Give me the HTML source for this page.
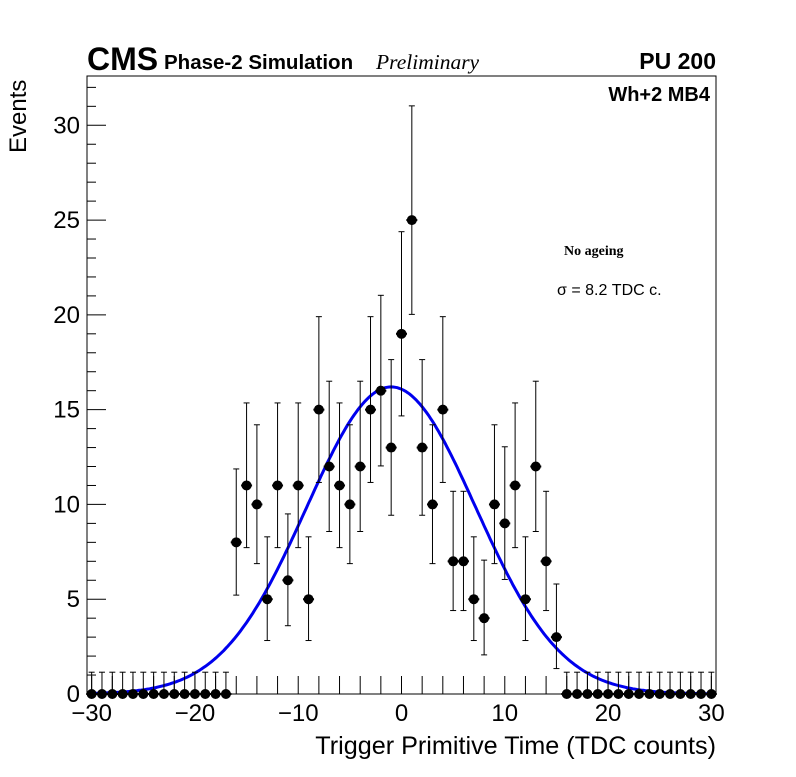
<!DOCTYPE html>
<html><head><meta charset="utf-8"><style>body{margin:0;background:#fff}svg{font-family:"Liberation Sans",sans-serif}</style></head>
<body>
<svg width="796" height="772" xmlns="http://www.w3.org/2000/svg">
<g id="g"></g>
</svg>
<script>
const xs = [];
for (let i=-30;i<=30;i++) xs.push(i);
const counts = [0,0,0,0,0,0,0,0,0,0,0,0,0,0,8,11,10,5,11,6,11,5,15,12,11,10,12,15,16,13,19,25,13,10,15,7,7,5,4,10,9,11,5,12,7,3,0,0,0,0,0,0,0,0,0,0,0,0,0,0,0];
const fitAmp = 16.2, fitMean = -1.0, fitSigma = 8.2;
const xTicks = [-30,-20,-10,0,10,20,30];
const yTicks = [0,5,10,15,20,25,30];
const NS="http://www.w3.org/2000/svg", g=document.getElementById('g');
const L=87,R=716,T=76,B=694;
const X=v=>L+(v+30.45)/60.9*(R-L);
const Y=v=>B-v/32.6*(B-T);
function el(t,a,p){const e=document.createElementNS(NS,t);for(const k in a)e.setAttribute(k,a[k]);(p||g).appendChild(e);return e;}
let f=el('rect',{x:L,y:T,width:R-L,height:B-T,fill:'none',stroke:'#000','stroke-width':1});

for(let v=-30;v<=30;v+=2){let t=el('line',{x1:X(v),x2:X(v),y1:B,y2:B-18,stroke:'#000'});}
xTicks.forEach(v=>{let t=el('text',{x:X(v),y:721,'font-size':24,'text-anchor':'middle'});t.textContent=(v<0?'\u2212'+(-v):v);});
for(let v=0;v<=32;v++){let t=el('line',{x1:L,x2:L+(v%5===0?19:9),y1:Y(v),y2:Y(v),stroke:'#000'});}
yTicks.forEach(v=>{let t=el('text',{x:80,y:Y(v)+8,'font-size':24,'text-anchor':'end'});t.textContent=v;});
let d='';for(let i=0;i<=300;i++){const v=-30+60*i/300;const y=fitAmp*Math.exp(-0.5*((v-fitMean)/fitSigma)**2);d+=(i?'L':'M')+X(v).toFixed(1)+','+Y(y).toFixed(1);}
let c=el('path',{d:d,fill:'none',stroke:'#0000ee','stroke-width':3});
xs.forEach((v,i)=>{const n=counts[i];const up=n===0?1.15:Math.sqrt(n+0.25)+1.0, lo=n===0?0:Math.sqrt(n-0.25);
 const gp=el('g',{});
 const x=X(v);
 el('line',{x1:x,x2:x,y1:Y(n+up),y2:Y(Math.max(0,n-lo)),stroke:'#000'},gp);
 el('line',{x1:x-3,x2:x+3,y1:Y(n+up),y2:Y(n+up),stroke:'#000'},gp);
 if(n>0)el('line',{x1:x-3,x2:x+3,y1:Y(n-lo),y2:Y(n-lo),stroke:'#000'},gp);
 el('line',{x1:x-5.5,x2:x+5.5,y1:Y(n),y2:Y(n),stroke:'#000','stroke-width':2},gp);
 el('circle',{cx:x,cy:Y(n),r:5,fill:'#000'},gp);
});
</script>
<svg style="position:absolute;left:0;top:0" width="796" height="772">
<text x="87" y="70" font-family="Liberation Sans" font-weight="bold" font-size="32">CMS</text>
<text x="164" y="69" font-family="Liberation Sans" font-weight="bold" font-size="20.5">Phase-2 Simulation</text>
<text x="376" y="69" font-family="Liberation Serif" font-style="italic" font-size="21.5">Preliminary</text>
<text x="716" y="69" text-anchor="end" font-family="Liberation Sans" font-weight="bold" font-size="23">PU 200</text>
<text x="710" y="101" text-anchor="end" font-family="Liberation Sans" font-weight="bold" font-size="20">Wh+2 MB4</text>
<text x="564" y="255" font-family="Liberation Serif" font-weight="bold" font-size="14">No ageing</text>
<text x="557" y="295" font-family="Liberation Sans" font-size="16">σ = 8.2 TDC c.</text>
<text transform="translate(26,153) rotate(-90)" font-family="Liberation Sans" font-size="24">Events</text>
<text x="716" y="754" text-anchor="end" font-family="Liberation Sans" font-size="25.2">Trigger Primitive Time (TDC counts)</text>
</svg>
</body></html>
